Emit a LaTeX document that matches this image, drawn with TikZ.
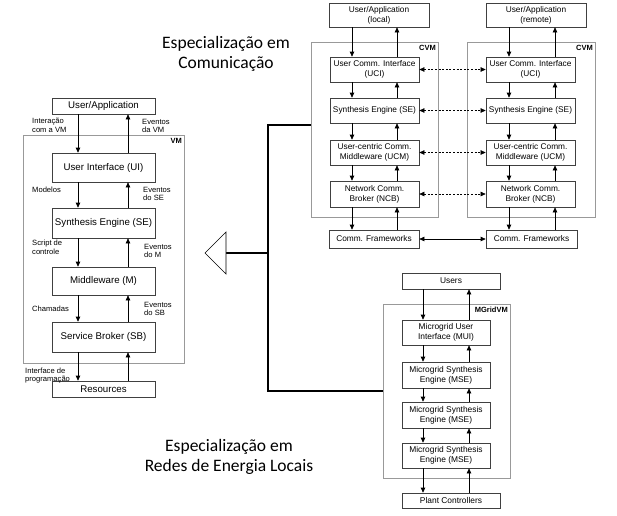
\documentclass[tikz,border=0pt]{standalone}
\usepackage{fontspec}
\setmainfont{Liberation Sans}
\newfontfamily\calibrifont{Carlito}
\usetikzlibrary{arrows.meta}
\begin{document}
\begin{tikzpicture}[x=1pt,y=-1pt,
  box/.style={draw=black!75, line width=0.7pt, fill=white, align=center, inner sep=0pt, text=black},
  vmbox/.style={box, minimum width=103, font=\fontsize{9.7}{11}\selectfont},
  cbox/.style={box, minimum width=89, minimum height=25, font=\fontsize{8.3}{10}\selectfont},
  mbox/.style={box, minimum width=88, font=\fontsize{8.4}{10}\selectfont},
  frame/.style={draw=black!40, line width=0.9pt, inner sep=0pt},
  arr/.style={-{Triangle[length=5pt,width=4.5pt]}, line width=0.7pt},
  darr/.style={{Triangle[length=5pt,width=4.5pt]}-{Triangle[length=5pt,width=4.5pt]}, line width=0.6pt, dash pattern=on 2pt off 1.6pt},
  sarr/.style={{Triangle[length=5pt,width=4.5pt]}-{Triangle[length=5pt,width=4.5pt]}, line width=0.7pt},
  lab/.style={font=\fontsize{7.6}{8.8}\selectfont, align=left, inner sep=0pt, anchor=west},
  flab/.style={font=\bfseries\fontsize{7.5}{8}\selectfont, inner sep=0pt, anchor=north east},
  conn/.style={line width=1.5pt},
  big/.style={font=\calibrifont\fontsize{17.5}{19.5}\selectfont, align=center, inner sep=0pt}
]
\useasboundingbox[fill=white] (0,0) rectangle (617,515);

% ---------- frames ----------
\node[frame, minimum width=161, minimum height=228] (vm) at (103.5,249) {};
\node[frame, minimum width=127, minimum height=175] (cvm1) at (374.5,129.5) {};
\node[frame, minimum width=128, minimum height=175] (cvm2) at (531,129.5) {};
\node[frame, minimum width=127, minimum height=174] (mg) at (446.5,391) {};
\node[flab] (vml) at (182,138) {VM};
\node[flab] (cvml1) at (436,45) {CVM};
\node[flab] (cvml2) at (593,45) {CVM};
\node[flab] (mgl) at (508,307) {MGridVM};

% ---------- VM ----------
\node[vmbox, minimum height=16] (ua) at (103.5,106) {User/Application};
\node[vmbox, minimum height=29] (ui) at (103.5,167.5) {User Interface (UI)};
\node[vmbox, minimum height=30] (se) at (103.5,223) {Synthesis Engine (SE)};
\node[vmbox, minimum height=28] (mw) at (103.5,281) {Middleware (M)};
\node[vmbox, minimum height=30] (sb) at (103.5,337) {Service Broker (SB)};
\node[vmbox, minimum height=16] (res) at (103.5,389) {Resources};
\coordinate (vd) at (78,0);
\coordinate (vu) at (128,0);
\foreach \a/\b in {ua/ui,ui/se,se/mw,mw/sb,sb/res}{
  \draw[arr] (\a.south -| vd) -- (\b.north -| vd);
  \draw[arr] (\b.north -| vu) -- (\a.south -| vu);
}
\node[lab] (l1) at (32,125) {Interação\\com a VM};
\node[lab] (l2) at (142,126) {Eventos\\da VM};
\node[lab] (l3) at (32,190) {Modelos};
\node[lab] (l4) at (143,194) {Eventos\\do SE};
\node[lab] (l5) at (32,247) {Script de\\controle};
\node[lab] (l6) at (144,251) {Eventos\\do M};
\node[lab] (l7) at (32,309) {Chamadas};
\node[lab] (l8) at (144,309) {Eventos\\do SB};
\node[lab] (l9) at (25,375.5) {Interface de\\programação};

% ---------- CVM local ----------
\node[cbox, minimum width=100, minimum height=24] (ual) at (379,15) {User/Application\\(local)};
\node[cbox] (uci1) at (374.5,69.5) {User Comm. Interface\\(UCI)};
\node[cbox] (se1) at (374.5,110.5) {Synthesis Engine (SE)};
\node[cbox] (ucm1) at (374.5,152.5) {User-centric Comm.\\Middleware (UCM)};
\node[cbox, minimum height=26] (ncb1) at (374.5,194) {Network Comm.\\Broker (NCB)};
\node[cbox, minimum width=90, minimum height=18] (cf1) at (374,239) {Comm. Frameworks};
\coordinate (cd1) at (352,0);
\coordinate (cu1) at (397,0);
\foreach \a/\b in {ual/uci1,uci1/se1,se1/ucm1,ucm1/ncb1,ncb1/cf1}{
  \draw[arr] (\a.south -| cd1) -- (\b.north -| cd1);
  \draw[arr] (\b.north -| cu1) -- (\a.south -| cu1);
}

% ---------- CVM remote ----------
\node[cbox, minimum width=100, minimum height=24] (uar) at (536,15) {User/Application\\(remote)};
\node[cbox] (uci2) at (530.5,69.5) {User Comm. Interface\\(UCI)};
\node[cbox] (se2) at (530.5,110.5) {Synthesis Engine (SE)};
\node[cbox] (ucm2) at (530.5,152.5) {User-centric Comm.\\Middleware (UCM)};
\node[cbox, minimum height=26] (ncb2) at (530.5,194) {Network Comm.\\Broker (NCB)};
\node[cbox, minimum width=91, minimum height=18] (cf2) at (531.5,239) {Comm. Frameworks};
\coordinate (cd2) at (509,0);
\coordinate (cu2) at (555,0);
\foreach \a/\b in {uar/uci2,uci2/se2,se2/ucm2,ucm2/ncb2,ncb2/cf2}{
  \draw[arr] (\a.south -| cd2) -- (\b.north -| cd2);
  \draw[arr] (\b.north -| cu2) -- (\a.south -| cu2);
}
\foreach \a/\b in {uci1/uci2,se1/se2,ucm1/ucm2,ncb1/ncb2}{
  \draw[darr] (\a.east) -- (\b.west);
}
\draw[sarr] (cf1.east) -- (cf2.west);

% ---------- MGridVM ----------
\node[mbox, minimum width=98, minimum height=16] (users) at (451,281) {Users};
\node[mbox, minimum height=25] (mui) at (446,332.5) {Microgrid User\\Interface (MUI)};
\node[mbox, minimum height=26] (mse1) at (446,375) {Microgrid Synthesis\\Engine (MSE)};
\node[mbox, minimum height=26] (mse2) at (446,415) {Microgrid Synthesis\\Engine (MSE)};
\node[mbox, minimum height=25] (mse3) at (446,455.5) {Microgrid Synthesis\\Engine (MSE)};
\node[mbox, minimum width=98, minimum height=15] (pc) at (451,500.5) {Plant Controllers};
\coordinate (md) at (423,0);
\coordinate (mu) at (469,0);
\foreach \a/\b in {users/mui,mui/mse1,mse1/mse2,mse2/mse3,mse3/pc}{
  \draw[arr] (\a.south -| md) -- (\b.north -| md);
  \draw[arr] (\b.north -| mu) -- (\a.south -| mu);
}

% ---------- connector ----------
\coordinate (j1) at (268,125);
\coordinate (j0) at (268,253);
\coordinate (j2) at (268,391);
\coordinate (tri) at (226,253);
\draw[conn] (j1 -| cvm1.west) -- (j1) -- (j2) -- (mg.west);
\draw[conn] (j0) -- (tri);
\draw[line width=0.6pt, fill=white] (205,253) -- (226,232) -- (226,274) -- cycle;

% ---------- titles ----------
\node[big] (t1) at (226,54) {Especialização em\\Comunicação};
\node[big] (t2) at (229,457) {Especialização em\\Redes de Energia Locais};
\end{tikzpicture}
\end{document}
